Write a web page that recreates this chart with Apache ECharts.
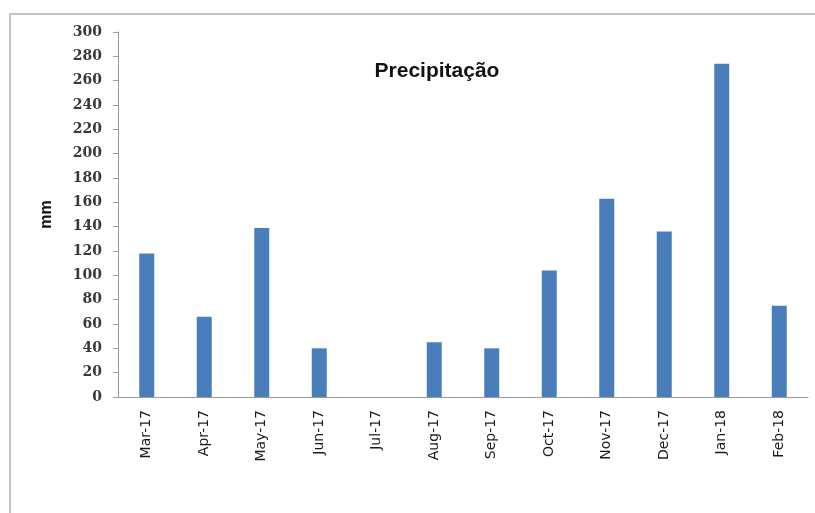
<!DOCTYPE html>
<html>
<head>
<meta charset="utf-8">
<script src="https://cdn.jsdelivr.net/npm/echarts@6/dist/echarts.min.js"></script>
<style>
  html, body { margin: 0; padding: 0; background: #fff; }
  #chart { width: 815px; height: 513px; }
</style>
</head>
<body>
<div id="chart"></div>
<script>
// Monthly precipitation, Mar 2017 – Feb 2018
const months = ['Mar-17', 'Apr-17', 'May-17', 'Jun-17', 'Jul-17', 'Aug-17',
                'Sep-17', 'Oct-17', 'Nov-17', 'Dec-17', 'Jan-18', 'Feb-18'];
const precipitation = [118, 66, 139, 40, 0, 45, 40, 104, 163, 136, 274, 75];
const yTicks = { min: 0, max: 300, step: 20 };

const chart = echarts.init(document.getElementById('chart'));
chart.setOption({
  animation: false,
  backgroundColor: '#ffffff',
  graphic: [{
    type: 'rect',
    shape: { x: 10, y: 14, width: 900, height: 600 },
    style: { fill: 'none', stroke: '#c4c4c4', lineWidth: 2 },
    silent: true
  }],
  title: {
    text: 'Precipitação',
    left: 432,
    top: 56,
    textAlign: 'center',
    textStyle: { fontFamily: 'Liberation Sans, Arial, sans-serif', fontWeight: 'bold', fontSize: 21, color: '#111' }
  },
  grid: { left: 118, right: 7, top: 32, bottom: 116, containLabel: false },
  xAxis: {
    type: 'category',
    data: months,
    axisLine: { lineStyle: { color: '#9a9a9a', width: 1 } },
    axisTick: { show: false },
    axisLabel: {
      rotate: 90,
      margin: 13,
      interval: 0,
      fontFamily: 'DejaVu Sans, sans-serif',
      fontSize: 14,
      color: '#1a1a1a'
    }
  },
  yAxis: {
    type: 'value',
    min: yTicks.min,
    max: yTicks.max,
    interval: yTicks.step,
    name: 'mm',
    nameLocation: 'middle',
    nameGap: 63,
    nameRotate: 90,
    nameTextStyle: { fontFamily: 'Liberation Sans, Arial, sans-serif', fontWeight: 'bold', fontSize: 16, color: '#111' },
    axisLine: { show: true, lineStyle: { color: '#9a9a9a', width: 1 } },
    axisTick: { show: true, length: 5, lineStyle: { color: '#9a9a9a' } },
    splitLine: { show: false },
    axisLabel: {
      margin: 16,
      fontFamily: 'DejaVu Serif, serif',
      fontWeight: 'bold',
      fontSize: 14,
      color: '#3a3a3a'
    }
  },
  series: [{
    type: 'bar',
    data: precipitation,
    barWidth: 15,
    itemStyle: { color: '#4A7EBB' }
  }]
});
</script>
</body>
</html>
